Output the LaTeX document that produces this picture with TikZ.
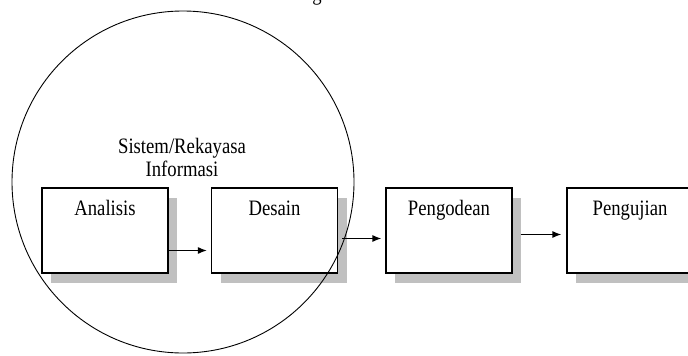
\documentclass[tikz,border=0pt]{standalone}
\usepackage{fontspec}
\setmainfont{Liberation Serif}[FakeStretch=0.85]
\usetikzlibrary{arrows.meta,shadows}
\definecolor{shadowGray}{RGB}{192,192,192}

\begin{document}
\begin{tikzpicture}[x=1pt,y=-1pt,
  phase/.style={draw, line width=1.2pt, fill=white, minimum width=126pt, minimum height=85pt,
    drop shadow={shadow xshift=9pt, shadow yshift=-10pt, fill=shadowGray, opacity=1}},
  phasetext/.style={anchor=north, inner sep=0pt, yshift=-13pt, font=\fontsize{22}{26}\selectfont},
  flow/.style={line width=1.2pt, -{Latex[length=9pt,width=7pt]}}]
\useasboundingbox (0,0) rectangle (688,356);

% Heading cut off at the top
\node[anchor=base, inner sep=0pt, font=\fontsize{22}{26}\selectfont] (head) at (317,0) {g};

% Phases
\node[phase, label={[phasetext]90:Analisis}] (ana) at (105,230.5) {};
\node[phase, label={[phasetext]90:Desain}] (des) at (274.5,230.5) {};
\node[phase, label={[phasetext]90:Pengodean}] (kod) at (449,230.5) {};
\node[phase, label={[phasetext]90:Pengujian}] (uji) at (630,230.5) {};

% Circle round the first two phases
\node[draw, circle, line width=0.9pt, minimum size=342pt, inner sep=0pt] (sys) at (183,182) {};
\node[align=center, font=\fontsize{22}{23}\selectfont] (systext) at (182,157) {Sistem/Rekayasa\\Informasi};

% Arrows
\draw[flow, shorten >=4pt] ([yshift=-20pt]ana.east) -- ([yshift=-20pt]des.west);
\draw[flow, shorten <=4pt, shorten >=4pt] ([yshift=-8pt]des.east) -- ([yshift=-8pt]kod.west);
\draw[flow, shorten <=8pt, shorten >=5pt] ([yshift=-4pt]kod.east) -- ([yshift=-4pt]uji.west);
\end{tikzpicture}
\end{document}
